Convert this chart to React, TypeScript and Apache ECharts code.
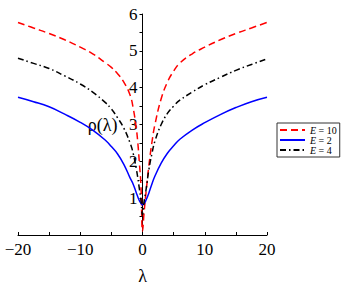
import React, { useEffect, useRef } from "react";
import * as echarts from "echarts";

const lambdas = [-20, -17.5, -15, -12.5, -10, -8, -6, -5, -4, -3, -2, -1.5, -1, -0.75, -0.5, -0.25, 0, 0.25, 0.5, 0.75, 1, 1.5, 2, 3, 4, 5, 6, 8, 10, 12.5, 15, 17.5, 20];

const rhoE10 = [5.77, 5.62, 5.47, 5.3, 5.1, 4.92, 4.68, 4.55, 4.38, 4.15, 3.8, 3.45, 2.9, 2.5, 1.95, 1.35, 0.1, 0.6, 1.05, 1.45, 1.85, 2.5, 3.0, 3.7, 4.15, 4.45, 4.67, 4.92, 5.1, 5.3, 5.47, 5.62, 5.77];
const rhoE2 = [3.74, 3.62, 3.48, 3.28, 3.06, 2.85, 2.58, 2.4, 2.2, 1.92, 1.55, 1.38, 1.15, 1.03, 0.93, 0.86, 0.82, 0.85, 0.92, 1.02, 1.13, 1.38, 1.6, 1.95, 2.22, 2.42, 2.6, 2.85, 3.05, 3.27, 3.46, 3.62, 3.74];
const rhoE4 = [4.8, 4.66, 4.52, 4.32, 4.1, 3.88, 3.6, 3.42, 3.18, 2.9, 2.5, 2.22, 1.8, 1.55, 1.25, 0.95, 0.55, 0.9, 1.15, 1.45, 1.75, 2.2, 2.55, 3.0, 3.3, 3.5, 3.66, 3.88, 4.08, 4.28, 4.47, 4.63, 4.78];

const seriesNames = ["E = 10", "E = 2", "E = 4"];
const serif = "Liberation Serif";

const pairs = (ys: number[]) => lambdas.map((x, i) => [x, ys[i]]);

const W = 343;
const GRID_LEFT = 18;
const GRID_RIGHT = 76;

export default function App() {
  const ref = useRef<HTMLDivElement>(null);
  useEffect(() => {
    if (!ref.current) return;
    const chart = echarts.init(ref.current, undefined, { renderer: "svg" });
    const gridW = W - GRID_LEFT - GRID_RIGHT;
    const zeroOffset = gridW / 2;
    chart.setOption({
      animation: false,
      backgroundColor: "#ffffff",
      grid: { left: GRID_LEFT, right: GRID_RIGHT, top: 14, bottom: 52, containLabel: false, outerBoundsMode: "none" },
      legend: {
        orient: "vertical",
        left: 277,
        top: 123,
        data: seriesNames,
        itemWidth: 25,
        itemHeight: 7,
        itemGap: 0,
        padding: [2, 3, 2, 2],
        borderColor: "#333",
        borderWidth: 1,
        itemStyle: { opacity: 0 },
        formatter: (n: string) => "{i|E}" + n.slice(1),
        textStyle: {
          fontFamily: serif,
          fontSize: 10,
          lineHeight: 8,
          color: "#000",
          rich: { i: { fontStyle: "italic", fontFamily: serif, fontSize: 10, lineHeight: 8, color: "#000" } },
        },
      },
      xAxis: {
        type: "value",
        min: -20,
        max: 20,
        interval: 10,
        name: "λ",
        nameLocation: "middle",
        nameGap: 32,
        nameTextStyle: { fontFamily: serif, fontSize: 18, color: "#000" },
        axisLine: { onZero: false, lineStyle: { color: "#000", width: 1 } },
        axisTick: { show: true, inside: true, length: 3, lineStyle: { color: "#000" } },
        minorTick: { show: true, splitNumber: 2, length: 3, lineStyle: { color: "#000" } },
        axisLabel: {
          fontFamily: serif,
          fontSize: 17,
          color: "#000",
          margin: 6,
          formatter: (v: number) => (v < 0 ? "\u2212" + Math.abs(v) : String(v)),
        },
        splitLine: { show: false },
      },
      yAxis: {
        type: "value",
        min: 0,
        max: 6,
        interval: 1,
        offset: -zeroOffset,
        name: "ρ(λ)",
        nameLocation: "middle",
        nameRotate: 0,
        nameGap: 25,
        nameTextStyle: { fontFamily: serif, fontSize: 18, color: "#000", padding: [0, 0, 6, 0] },
        axisLine: { onZero: false, lineStyle: { color: "#000", width: 1 } },
        axisTick: { show: true, inside: false, length: 3, lineStyle: { color: "#000" } },
        minorTick: { show: true, splitNumber: 2, length: 3, lineStyle: { color: "#000" } },
        axisLabel: {
          fontFamily: serif,
          fontSize: 17,
          color: "#000",
          margin: 5,
          showMinLabel: false,
        },
        splitLine: { show: false },
      },
      series: [
        {
          name: seriesNames[0],
          type: "line",
          data: pairs(rhoE10),
          symbol: "none",
          smooth: 0.45,
          lineStyle: { color: "#ff0000", width: 1.5, type: [7, 4] },
          itemStyle: { color: "#ff0000" },
        },
        {
          name: seriesNames[1],
          type: "line",
          data: pairs(rhoE2),
          symbol: "none",
          smooth: 0.45,
          lineStyle: { color: "#0000ff", width: 1.5, type: "solid" },
          itemStyle: { color: "#0000ff" },
        },
        {
          name: seriesNames[2],
          type: "line",
          data: pairs(rhoE4),
          symbol: "none",
          smooth: 0.45,
          lineStyle: { color: "#000000", width: 1.5, type: [6, 3, 1.5, 3] },
          itemStyle: { color: "#000000" },
        },
      ],
    });
    return () => chart.dispose();
  }, []);
  return <div ref={ref} style={{ position: "absolute", left: 0, top: 0, width: W, height: 287 }} />;
}
